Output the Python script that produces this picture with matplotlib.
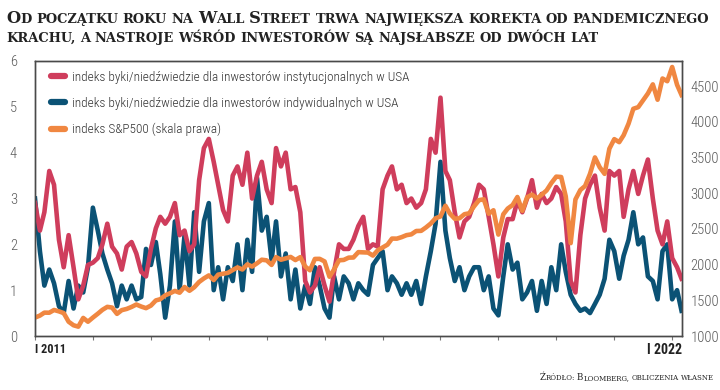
import matplotlib
matplotlib.use('Agg')
import matplotlib.pyplot as plt
import matplotlib.transforms as mtransforms
from matplotlib.lines import Line2D
import pandas as pd

# monthly readings, Jan 2011 .. Mar 2022
months = pd.date_range('2011-01-01', periods=135, freq='MS')

# bull/bear ratio, institutional investors (red)
inst = [2.9, 2.3, 2.7, 3.6, 3.3, 2.1, 1.5, 2.2, 1.5, 0.8, 1.1, 1.55,
        1.6, 1.7, 2.0, 2.45, 1.95, 1.8, 1.45, 1.95, 2.05, 1.8, 1.4, 1.3,
        1.9, 2.35, 2.6, 2.45, 2.6, 2.9, 2.2, 2.3, 1.85, 2.0, 3.4, 4.1,
        4.3, 3.8, 3.3, 2.75, 2.5, 3.5, 3.7, 3.3, 4.0, 3.0, 3.5, 3.8,
        3.2, 2.9, 4.1, 3.7, 4.0, 3.2, 3.25, 2.7, 1.2, 0.95, 1.1, 1.5,
        1.1, 0.75, 1.4, 2.0, 1.9, 1.9, 2.1, 2.4, 2.6, 1.9, 2.0, 1.95,
        3.2, 3.5, 3.7, 3.2, 3.3, 2.9, 3.0, 2.8, 2.9, 3.2, 4.3, 4.0,
        5.2, 3.6, 3.4, 2.7, 2.15, 2.5, 2.6, 2.9, 3.3, 3.2, 2.6, 2.0,
        1.3, 2.15, 2.55, 2.55, 2.95, 2.7, 3.0, 3.4, 2.8, 3.1, 2.9, 3.0,
        3.25, 3.1, 2.5, 1.2, 0.95, 2.2, 3.0, 3.3, 3.5, 2.8, 2.3, 3.6,
        3.5, 3.6, 2.6, 3.2, 3.6, 3.1, 3.5, 3.85, 3.0, 2.3, 2.0, 2.5,
        1.7, 1.5, 1.25]

# bull/bear ratio, individual investors (dark teal)
indiv = [3.0, 1.85, 1.1, 1.45, 1.15, 0.65, 0.5, 1.2, 0.6, 1.1, 0.95, 1.5,
         2.8, 2.3, 1.8, 1.45, 1.15, 0.65, 1.1, 0.8, 1.1, 0.8, 0.85, 1.9,
         1.55, 2.05, 1.35, 0.4, 1.1, 2.5, 1.0, 2.2, 1.1, 2.7, 1.4, 2.5,
         2.9, 1.0, 1.5, 0.8, 1.5, 1.2, 2.0, 1.0, 2.1, 1.4, 3.45, 2.3,
         2.6, 1.65, 2.5, 1.3, 1.8, 0.8, 1.45, 0.6, 1.1, 0.7, 1.5, 1.1,
         0.6, 0.4, 1.3, 0.8, 1.3, 1.15, 0.8, 1.15, 1.0, 0.9, 1.55, 1.7,
         1.85, 1.0, 1.3, 1.15, 0.9, 1.15, 0.9, 1.2, 0.7, 1.3, 1.85, 2.45,
         3.8, 2.3, 1.7, 1.2, 1.5, 1.0, 1.3, 1.5, 1.5, 1.0, 1.3, 0.6,
         0.45, 1.3, 2.0, 1.45, 1.6, 0.8, 0.95, 1.2, 0.55, 1.2, 0.7, 1.5,
         1.0, 2.0, 1.4, 0.9, 0.7, 0.55, 0.6, 0.5, 0.7, 0.9, 1.25, 2.1,
         1.85, 1.25, 1.75, 2.1, 2.7, 2.0, 2.15, 1.3, 1.2, 0.8, 1.85, 2.0,
         0.8, 1.0, 0.55]

# S&P 500 (right axis)
spx = [1258, 1286, 1327, 1326, 1364, 1345, 1321, 1200, 1150, 1131, 1253, 1200,
       1258, 1312, 1366, 1408, 1398, 1310, 1362, 1379, 1407, 1441, 1412, 1390,
       1426, 1498, 1515, 1569, 1598, 1631, 1606, 1686, 1633, 1682, 1757, 1806,
       1848, 1783, 1859, 1872, 1884, 1924, 1960, 1931, 2003, 1972, 2018, 2068,
       2059, 1995, 2105, 2068, 2086, 2107, 2063, 2104, 1972, 1920, 2079, 2080,
       2044, 1830, 1932, 2060, 2065, 2097, 2099, 2174, 2171, 2168, 2126, 2199,
       2239, 2279, 2364, 2363, 2384, 2412, 2423, 2470, 2472, 2519, 2575, 2648,
       2674, 2824, 2714, 2641, 2648, 2705, 2718, 2816, 2902, 2914, 2712, 2760,
       2420, 2704, 2784, 2834, 2946, 2752, 2942, 2980, 2926, 2977, 3038, 3141,
       3231, 3226, 2954, 2300, 2912, 3044, 3100, 3271, 3500, 3363, 3270, 3622,
       3756, 3714, 3811, 3973, 4181, 4204, 4298, 4395, 4523, 4308, 4605, 4567,
       4766, 4516, 4374]

labels = ['indeks byki/niedźwiedzie dla inwestorów instytucjonalnych w USA',
          'indeks byki/niedźwiedzie dla inwestorów indywidualnych w USA',
          'indeks S&P500 (skala prawa)']
title_lines = ['Od początku roku na Wall Street trwa największa korekta od pandemicznego',
               'krachu, a nastroje wśród inwestorów są najsłabsze od dwóch lat']
source = 'Źródło: Bloomberg, obliczenia własne'

RED = '#cf3d5c'
TEAL = '#0b5275'
ORANGE = '#f08741'
NARROW = ['Roboto Condensed', 'Roboto', 'DejaVu Sans']

fig = plt.figure(figsize=(7.2, 3.9), dpi=100)
renderer = fig.canvas.get_renderer()


def fit_width(t, target):
    # shrink/grow a text so that it is target pixels wide
    w = t.get_window_extent(renderer).width
    t.set_fontsize(t.get_fontsize() * target / w)


ax = fig.add_axes([35 / 720, 1 - 336 / 390, 647 / 720, 275 / 390])
ax2 = ax.twinx()

lw = 3.3
ax.plot(months, inst, color=RED, lw=lw, solid_joinstyle='round', zorder=3)
ax.plot(months, indiv, color=TEAL, lw=lw, solid_joinstyle='round', zorder=2)
ax2.plot(months, spx, color=ORANGE, lw=lw, solid_joinstyle='round')

ax.set_ylim(0, 6)
ax2.set_ylim(1000, 4850)
ax.set_xlim(pd.Timestamp('2011-01-01'), pd.Timestamp('2022-03-04'))
ax.set_yticks(range(0, 7))
ax2.set_yticks(range(1000, 5000, 500))
ax.set_xticks(pd.date_range('2011-01-01', '2022-01-01', freq='YS'))
ax.set_xticklabels([])

for a in (ax, ax2):
    for s in a.spines.values():
        s.set_color('#4a4a4a')
        s.set_linewidth(1.0)
ax.tick_params(axis='y', length=0, pad=13, labelsize=10.5, labelcolor='#5a5a5a')
ax2.tick_params(axis='y', length=0, pad=6, labelsize=10.5, labelcolor='#5a5a5a')
ax.tick_params(axis='x', length=3, width=0.8, color='#777777', direction='out')
for t in ax.get_yticklabels() + ax2.get_yticklabels():
    t.set_family(NARROW)
    t.set_fontweight('light')

t1 = ax.text(0, -0.025, 'I 2011', transform=ax.transAxes, ha='left', va='top',
             fontsize=11, fontweight='bold', color='#222222', family=NARROW)
t2 = ax.text(1, -0.025, 'I 2022', transform=ax.transAxes, ha='right', va='top',
             fontsize=11, fontweight='bold', color='#222222', family=NARROW)
fit_width(t1, 31)
fit_width(t2, 35)

handles = [Line2D([], [], color=c, lw=4.5, solid_capstyle='round') for c in (RED, TEAL, ORANGE)]
leg = ax2.legend(handles, labels, loc='upper left', bbox_to_anchor=(0.005, 1.01),
                 frameon=False, handlelength=1.0, handletextpad=0.55, labelspacing=0.95,
                 prop={'family': NARROW, 'size': 10, 'weight': 'light'})
for t in leg.get_texts():
    t.set_color('#333333')
w0 = leg.get_texts()[0].get_window_extent(renderer).width
for t in leg.get_texts():
    t.set_fontsize(t.get_fontsize() * 339 / w0)


def small_caps(text, x, y, big, small, scale=1.0, align='left', weight='bold',
               family='DejaVu Serif', color='#222222'):
    """Draw text in faked small caps; returns its pixel width."""
    ident = mtransforms.IdentityTransform()
    H = fig.bbox.height
    items = []
    for wi, word in enumerate(text.split(' ')):
        if wi:
            items.append((None, small))
        run, run_big = '', None
        for ch in word:
            b = ch.isupper()
            if run and b != run_big:
                items.append((run.upper(), big if run_big else small))
                run = ''
            run += ch
            run_big = b
        items.append((run.upper(), big if run_big else small))

    objs, widths = [], []
    for s, size in items:
        if s is None:
            a = fig.text(0, 0, 'A A', fontsize=size * scale, family=family, weight=weight, transform=ident)
            b = fig.text(0, 0, 'AA', fontsize=size * scale, family=family, weight=weight, transform=ident)
            widths.append(a.get_window_extent(renderer).width - b.get_window_extent(renderer).width)
            a.remove()
            b.remove()
            objs.append(None)
        else:
            t = fig.text(0, 0, s, fontsize=size * scale, family=family, weight=weight,
                         color=color, va='baseline', ha='left', transform=ident)
            widths.append(t.get_window_extent(renderer).width)
            objs.append(t)
    x0 = x if align == 'left' else x - sum(widths)
    for o, w in zip(objs, widths):
        if o is not None:
            o.set_position((x0, H - y))
        x0 += w
    return objs, sum(widths)


# title: fit first line to the full width, reuse the same scale for line two
objs, w = small_caps(title_lines[0], 6, 23, 12.5, 10)
for o in objs:
    if o is not None:
        o.remove()
sc = 708 / w
small_caps(title_lines[0], 6, 23, 12.5, 10, scale=sc)
small_caps(title_lines[1], 6, 42, 12.5, 10, scale=sc)

objs, w = small_caps(source, 714, 380, 7.5, 6, weight='normal')
for o in objs:
    if o is not None:
        o.remove()
small_caps(source, 714, 380, 7.5, 6, scale=176 / w, align='right', weight='normal')

fig.savefig('out.png', dpi=100, facecolor='white')
